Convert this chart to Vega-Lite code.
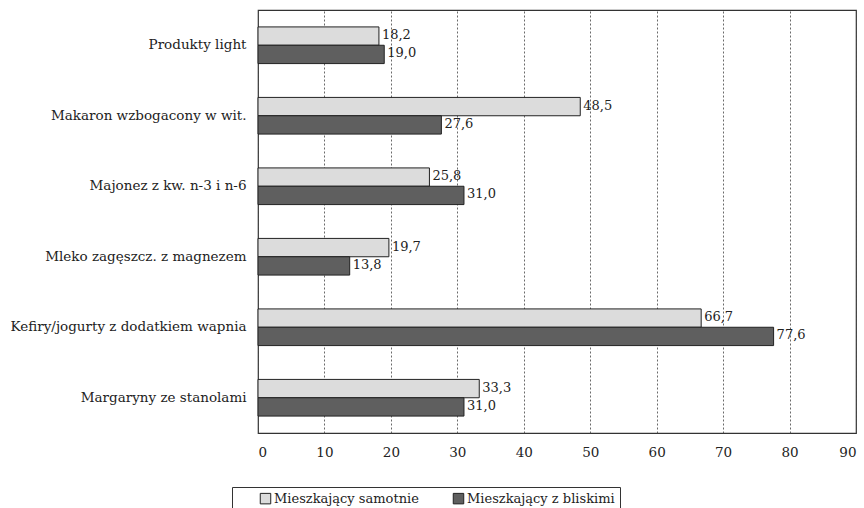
{
  "$schema": "https://vega.github.io/schema/vega-lite/v6.json",
  "autosize": "none",
  "width": 598,
  "height": 423,
  "padding": {"left": 258, "top": 10, "right": 8, "bottom": 75},
  "background": "white",
  "config": {
    "locale": {"number": {"decimal": ",", "thousands": " ", "grouping": [3], "currency": ["", " zł"]}},
    "font": "DejaVu Serif",
    "axis": {"labelFont": "DejaVu Serif"},
    "legend": {"labelFont": "DejaVu Serif"},
    "text": {"font": "DejaVu Serif"},
    "view": {"stroke": "#333333", "strokeWidth": 1.2}
  },
  "data": {
    "values": [
      {"kategoria": "Produkty light", "grupa": "Mieszkający samotnie", "wartosc": 18.2},
      {"kategoria": "Produkty light", "grupa": "Mieszkający z bliskimi", "wartosc": 19.0},
      {"kategoria": "Makaron wzbogacony w wit.", "grupa": "Mieszkający samotnie", "wartosc": 48.5},
      {"kategoria": "Makaron wzbogacony w wit.", "grupa": "Mieszkający z bliskimi", "wartosc": 27.6},
      {"kategoria": "Majonez z kw. n-3 i n-6", "grupa": "Mieszkający samotnie", "wartosc": 25.8},
      {"kategoria": "Majonez z kw. n-3 i n-6", "grupa": "Mieszkający z bliskimi", "wartosc": 31.0},
      {"kategoria": "Mleko zagęszcz. z magnezem", "grupa": "Mieszkający samotnie", "wartosc": 19.7},
      {"kategoria": "Mleko zagęszcz. z magnezem", "grupa": "Mieszkający z bliskimi", "wartosc": 13.8},
      {"kategoria": "Kefiry/jogurty z dodatkiem wapnia", "grupa": "Mieszkający samotnie", "wartosc": 66.7},
      {"kategoria": "Kefiry/jogurty z dodatkiem wapnia", "grupa": "Mieszkający z bliskimi", "wartosc": 77.6},
      {"kategoria": "Margaryny ze stanolami", "grupa": "Mieszkający samotnie", "wartosc": 33.3},
      {"kategoria": "Margaryny ze stanolami", "grupa": "Mieszkający z bliskimi", "wartosc": 31.0}
    ]
  },
  "encoding": {
    "y": {
      "field": "kategoria", "type": "nominal", "sort": null,
      "scale": {"paddingInner": 0.48, "paddingOuter": 0.24},
      "axis": {"title": null, "ticks": false, "domain": false, "labelFontSize": 13.5, "labelColor": "#222222", "labelPadding": 12, "labelLimit": 300}
    },
    "yOffset": {"field": "grupa", "type": "nominal", "sort": ["Mieszkający samotnie", "Mieszkający z bliskimi"], "scale": {"paddingInner": 0, "paddingOuter": 0}},
    "x": {
      "field": "wartosc", "type": "quantitative",
      "scale": {"domain": [0, 90], "nice": false},
      "axis": {"title": null, "values": [0,10,20,30,40,50,60,70,80,90], "format": "d", "ticks": false, "domain": false, "labelFontSize": 13.5, "labelColor": "#222222", "labelPadding": 12, "grid": true, "gridDash": [2, 2], "gridColor": "#444444", "gridWidth": 0.8}
    }
  },
  "layer": [
    {
      "mark": {"type": "bar", "stroke": "#222222", "strokeWidth": 1},
      "encoding": {
        "color": {
          "field": "grupa", "type": "nominal",
          "scale": {"domain": ["Mieszkający samotnie", "Mieszkający z bliskimi"], "range": ["#dcdcdc", "#5f5f5f"]},
          "legend": {
            "title": null, "orient": "none", "direction": "horizontal",
            "legendX": -26, "legendY": 477,
            "symbolType": "square", "symbolSize": 110, "symbolStrokeColor": "#222222", "symbolStrokeWidth": 1, "symbolOffset": 22,
            "labelFontSize": 13, "labelColor": "#222222", "labelOffset": 2, "columnPadding": 11,
            "strokeColor": "#333333", "padding": 5, "labelLimit": 300
          }
        }
      }
    },
    {
      "mark": {"type": "text", "align": "left", "baseline": "middle", "dx": 3, "dy": -1, "fontSize": 13, "color": "#222222"},
      "encoding": {"text": {"field": "wartosc", "type": "quantitative", "format": ".1f"}}
    }
  ]
}
